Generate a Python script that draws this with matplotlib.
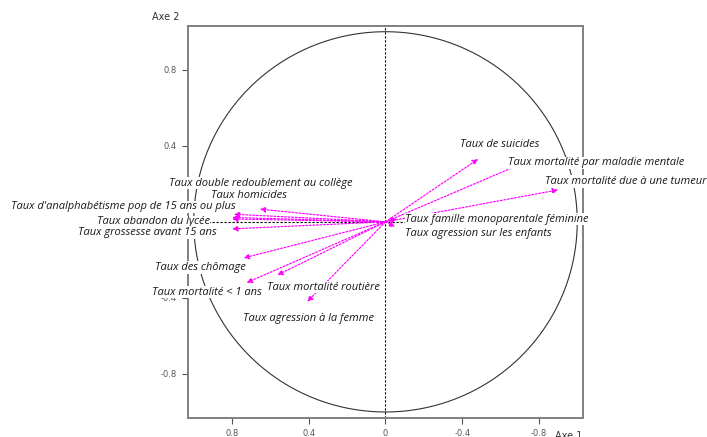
import numpy as np
import matplotlib
matplotlib.use("Agg")
import matplotlib.pyplot as plt

# Variable names and coordinates (Axe 1, Axe 2)
variables = [
    "Taux de suicides",
    "Taux mortalité par maladie mentale",
    "Taux mortalité due à une tumeur",
    "Taux famille monoparentale féminine",
    "Taux agression sur les enfants",
    "Taux double redoublement au collège",
    "Taux homicides",
    "Taux d'analphabétisme pop de 15 ans ou plus",
    "Taux abandon du lycée",
    "Taux grossesse avant 15 ans",
    "Taux des chômage",
    "Taux mortalité < 1 ans",
    "Taux mortalité routière",
    "Taux agression à la femme",
]
axe1 = [-0.483, -0.72, -0.90, -0.06, -0.05, 0.79, 0.655, 0.80, 0.80, 0.80, 0.74, 0.724, 0.564, 0.408]
axe2 = [0.33, 0.31, 0.168, 0.016, -0.026, 0.04, 0.067, 0.023, 0.015, -0.037, -0.19, -0.32, -0.28, -0.42]

# label positions (data coords)
label_x = [-0.597, -1.098, -1.252, -0.582, -0.485, 0.649, 0.712, 1.366, 1.211, 1.24, 0.965, 0.929, 0.326, 0.404]
label_y = [0.409, 0.310, 0.212, 0.014, -0.059, 0.203, 0.136, 0.080, 0.0, -0.056, -0.24, -0.369, -0.343, -0.506]

tick_vals = [0.8, 0.4, -0.4, -0.8]
xtick_vals = [0.8, 0.4, 0.0, -0.4, -0.8]

fig = plt.figure(figsize=(7.07, 4.37), dpi=100)
ax = fig.add_axes([0.2659, 0.0442, 0.5587, 0.8963])
ax.set_xlim(1.03, -1.03)
ax.set_ylim(-1.03, 1.03)

t = np.linspace(0, 2 * np.pi, 400)
ax.plot(np.cos(t), np.sin(t), color="#333333", lw=0.8, zorder=1)
ax.axvline(0, color="black", lw=0.8, ls=(0, (2, 1.6)), zorder=1)
ax.axhline(0, color="black", lw=0.8, ls=(0, (2, 1.6)), zorder=1)

for x, y in zip(axe1, axe2):
    ax.annotate("", xy=(x, y), xytext=(0, 0),
                arrowprops=dict(arrowstyle="-|>", color="#ff00ff", lw=0.85,
                                linestyle=(0, (1.6, 1.4)), mutation_scale=8,
                                shrinkA=0, shrinkB=0), zorder=2)

for name, lx, ly in zip(variables, label_x, label_y):
    ax.text(lx, ly, name, ha="center", va="center", fontsize=8,
            family=["Open Sans", "DejaVu Sans"], style="italic", color="#1a1a1a",
            clip_on=False, zorder=6,
            bbox=dict(boxstyle="square,pad=0.05", fc="white", ec="none"))

ax.set_xticks(xtick_vals)
ax.set_xticklabels([("%g" % v) for v in xtick_vals])
ax.set_yticks(tick_vals)
ax.set_yticklabels([("%g" % v) for v in tick_vals])
ax.tick_params(axis="both", labelsize=6, colors="#555555", length=4, width=0.8,
               direction="out", pad=4)
for s in ax.spines.values():
    s.set_color("#808080")
    s.set_linewidth(1.4)

fig.text(152 / 707, 1 - 17 / 437, "Axe 2", fontsize=7, color="#333333", va="center", ha="left")
fig.text(555 / 707, 1 - 436 / 437, "Axe 1", fontsize=7, color="#333333", va="center", ha="left")

fig.savefig("out.png", dpi=100)
